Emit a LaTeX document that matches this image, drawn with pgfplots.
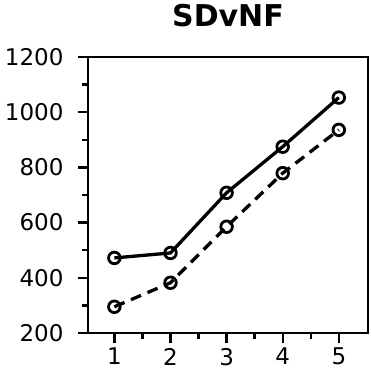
\documentclass[border=0pt]{standalone}
\usepackage{pgfplots}
\pgfplotsset{compat=1.18}
\usepackage{fontspec}
\setmainfont{DejaVu Sans}
\begin{document}
\begin{tikzpicture}
\begin{axis}[
  name=ax,
  scale only axis,
  width=280pt, height=276pt,
  xmin=0.53, xmax=5.52,
  ymin=200, ymax=1200,
  xtick={1,2,3,4,5},
  minor xtick={1.5,2.5,3.5,4.5},
  ytick={200,400,600,800,1000,1200},
  minor ytick={300,500,700,900,1100},
  xtick pos=left, ytick pos=left,
  tick align=outside,
  major tick length=10pt,
  minor tick length=6pt,
  line width=2.4pt,
  every tick/.style={line width=2.4pt, black},
  tick label style={font=\fontsize{23}{26}\selectfont},
  yticklabel style={xshift=-10pt},
  xticklabel style={yshift=-0.5pt},
  /pgf/number format/assume math mode=true,
  /pgf/number format/1000 sep={},
  title={SDvNF},
  title style={font=\bfseries\fontsize{30}{34}\selectfont, at={(0.5,1)}, anchor=south, yshift=23pt, inner sep=0pt},
]
\addplot[black, line width=3.3pt, mark=o, mark size=5.8pt, mark options={solid, fill=white, line width=2.8pt}] coordinates {
  (1,472) (2,490) (3,708) (4,875) (5,1053)
};
\addplot[black, line width=3.3pt, dash pattern=on 11pt off 7pt, mark=o, mark size=5.8pt, mark options={solid, fill=white, line width=2.8pt}] coordinates {
  (1,295) (2,382) (3,585) (4,779) (5,936)
};
\end{axis}
\pgfresetboundingbox
\path ([shift={(-88pt,-53pt)}]ax.south west) rectangle ([shift={(2pt,57pt)}]ax.north east);
\end{tikzpicture}
\end{document}
